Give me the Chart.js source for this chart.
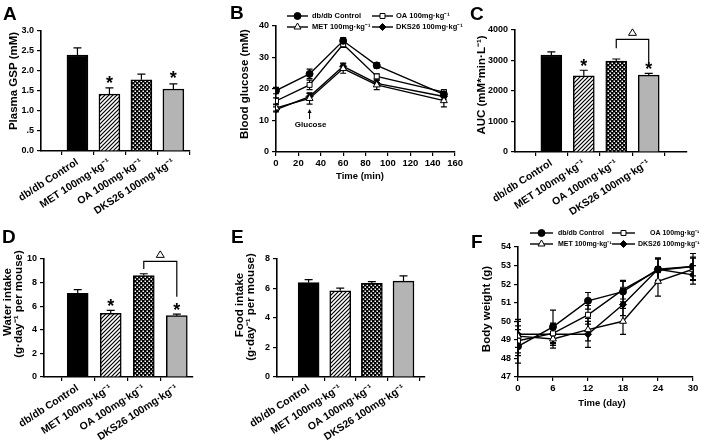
<!DOCTYPE html>
<html>
<head>
<meta charset="utf-8">
<script src="https://cdn.jsdelivr.net/npm/chart.js@4.4.1/dist/chart.umd.min.js"></script>
<style>
  body { margin: 0; width: 709px; height: 442px; position: relative; overflow: hidden; background: #fff;
         font-family: "Liberation Sans", Arial, Helvetica, sans-serif; }
  canvas { position: absolute; }
  .lbl { position: absolute; font-weight: bold; color: #000; white-space: nowrap; line-height: 1; }
  .panel { font-size: 19px; }
  .yt { transform: translate(-50%, -50%) rotate(-90deg); font-size: 11.5px; }
  .xt { transform: translate(-50%, -50%); font-size: 9.5px; }
</style>
</head>
<body>
<canvas id="cA" width="230" height="220" style="left:0;top:0"></canvas>
<canvas id="cB" width="235" height="220" style="left:230px;top:0"></canvas>
<canvas id="cC" width="244" height="220" style="left:465px;top:0"></canvas>
<canvas id="cD" width="230" height="222" style="left:0;top:220px"></canvas>
<canvas id="cE" width="235" height="222" style="left:230px;top:220px"></canvas>
<canvas id="cF" width="244" height="222" style="left:465px;top:220px"></canvas>

<div class="lbl panel" style="left:3px;top:4px">A</div>
<div class="lbl panel" style="left:230px;top:3px">B</div>
<div class="lbl panel" style="left:470px;top:4px">C</div>
<div class="lbl panel" style="left:2px;top:227px">D</div>
<div class="lbl panel" style="left:231px;top:227px">E</div>
<div class="lbl panel" style="left:471px;top:232px">F</div>

<div class="lbl yt" style="left:14px;top:81px">Plasma GSP (mM)</div>
<div class="lbl yt" style="left:245px;top:84px">Blood glucose (mM)</div>
<div class="lbl xt" style="left:360px;top:176px">Time (min)</div>
<div class="lbl yt" style="left:482px;top:85px">AUC (mM*min·L⁻¹)</div>
<div class="lbl yt" style="left:8px;top:302px">Water intake</div>
<div class="lbl yt" style="left:19px;top:304px">(g·day⁻¹ per mouse)</div>
<div class="lbl yt" style="left:240px;top:305px">Food intake</div>
<div class="lbl yt" style="left:251px;top:307px">(g·day⁻¹ per mouse)</div>
<div class="lbl yt" style="left:487px;top:309px">Body weight (g)</div>
<div class="lbl xt" style="left:602px;top:403px">Time (day)</div>

<script>
// ---- data ----
const groups = ['db/db Control', 'MET 100mg·kg⁻¹', 'OA 100mg·kg⁻¹', 'DKS26 100mg·kg⁻¹'];

// A plasma GSP
const gspMean = [2.40, 1.42, 1.78, 1.55];
const gspSem = [0.18, 0.16, 0.14, 0.13];
const gspTicks = [0, 0.5, 1, 1.5, 2, 2.5, 3];
const gspTickLabels = ['0.0', '.5', '1.0', '1.5', '2.0', '2.5', '3.0'];

// B OGTT
const ogttTime = [0, 30, 60, 90, 150];
const ogttCtrl = [19.5, 24.8, 35.3, 27.5, 18.3];
const ogttCtrlSem = [1.0, 1.5, 1.0, 0.9, 1.0];
const ogttMet = [14.0, 17.0, 26.5, 21.3, 16.3];
const ogttMetSem = [1.0, 1.8, 1.5, 1.5, 2.0];
const ogttOa = [16.2, 21.3, 34.2, 24.0, 19.0];
const ogttOaSem = [1.0, 1.5, 1.0, 0.8, 0.8];
const ogttDks = [13.5, 17.6, 27.2, 21.8, 17.6];
const ogttDksSem = [0.8, 1.0, 1.0, 1.0, 0.8];
const ogttXTicks = [0, 20, 40, 60, 80, 100, 120, 140, 160];
const ogttYTicks = [0, 10, 20, 30, 40];

// C AUC
const aucMean = [3180, 2500, 2980, 2520];
const aucSem = [100, 180, 70, 60];
const aucTicks = [0, 1000, 2000, 3000, 4000];

// D water intake
const waterMean = [7.1, 5.4, 8.6, 5.2];
const waterSem = [0.3, 0.25, 0.15, 0.12];
const waterTicks = [0, 2, 4, 6, 8, 10];

// E food intake
const foodMean = [6.4, 5.85, 6.35, 6.5];
const foodSem = [0.2, 0.18, 0.12, 0.35];
const foodTicks = [0, 2, 4, 6, 8];

// F body weight
const bwDay = [0, 6, 12, 18, 24, 30];
const bwCtrl = [48.65, 49.7, 51.1, 51.6, 52.8, 52.95];
const bwCtrlSem = [0.9, 0.9, 0.45, 0.55, 0.6, 0.7];
const bwMet = [49.2, 49.05, 49.55, 50.0, 52.15, 52.8];
const bwMetSem = [0.9, 0.5, 0.6, 0.7, 0.8, 0.6];
const bwOa = [48.95, 49.35, 50.35, 51.7, 52.75, 52.95];
const bwOaSem = [0.8, 0.5, 0.5, 0.5, 0.6, 0.5];
const bwDks = [49.3, 49.3, 49.3, 50.9, 52.8, 52.5];
const bwDksSem = [0.7, 0.6, 0.7, 0.6, 0.6, 0.5];
const bwXTicks = [0, 6, 12, 18, 24, 30];
const bwYTicks = [47, 48, 49, 50, 51, 52, 53, 54];

// ---- setup ----
const FONT = '"Liberation Sans", Arial, Helvetica, sans-serif';
Chart.defaults.font.family = FONT;
Chart.defaults.font.weight = 'bold';
Chart.defaults.color = '#000';
Chart.defaults.animation = false;
Chart.defaults.responsive = false;
Chart.defaults.plugins.legend.display = false;
Chart.defaults.plugins.tooltip.enabled = false;

function hatchFill() {
  const c = document.createElement('canvas');
  c.width = c.height = 4;
  const g = c.getContext('2d');
  g.fillStyle = '#fff'; g.fillRect(0, 0, 4, 4);
  g.strokeStyle = '#000'; g.lineWidth = 1.2;
  g.beginPath();
  g.moveTo(0, 4); g.lineTo(4, 0);
  g.moveTo(-1, 1); g.lineTo(1, -1);
  g.moveTo(3, 5); g.lineTo(5, 3);
  g.stroke();
  return g.createPattern(c, 'repeat');
}
function dotFill() {
  const c = document.createElement('canvas');
  c.width = c.height = 4;
  const g = c.getContext('2d');
  g.fillStyle = '#000'; g.fillRect(0, 0, 4, 4);
  g.fillStyle = '#fff';
  g.fillRect(0.5, 0.5, 1.5, 1.5);
  g.fillRect(2.5, 2.5, 1.5, 1.5);
  return g.createPattern(c, 'repeat');
}
const barFills = ['#000', hatchFill(), dotFill(), '#b4b4b4'];

const axisGrid = { drawOnChartArea: false, drawTicks: true, tickLength: 4, color: '#000', lineWidth: 1.2 };
const axisBorder = { display: true, color: '#000', width: 1.6 };

function yScale(box, plot, ticks, labels) {
  return {
    type: 'linear', min: ticks[0], max: ticks[ticks.length - 1],
    afterBuildTicks: s => { s.ticks = ticks.map(v => ({ value: v })); },
    afterFit: s => { s.width = plot.l - box.x; },
    ticks: { font: { size: 9, weight: 'bold' }, color: '#000', padding: 3,
             callback: (v, i) => labels ? labels[i] : String(v) },
    grid: axisGrid, border: axisBorder
  };
}
function xLinear(box, plot, ticks) {
  return {
    type: 'linear', min: ticks[0], max: ticks[ticks.length - 1], offset: false,
    afterBuildTicks: s => { s.ticks = ticks.map(v => ({ value: v })); },
    afterFit: s => { s.height = box.y + box.h - plot.b; },
    ticks: { font: { size: 9.5, weight: 'bold' }, color: '#000', padding: 2, maxRotation: 0 },
    grid: axisGrid, border: axisBorder
  };
}
function xGroups(box, plot, xmin, xmax) {
  return {
    type: 'linear', min: xmin, max: xmax, offset: false,
    afterBuildTicks: s => { s.ticks = groups.map((g, i) => ({ value: i + 1 })); },
    afterFit: s => { s.height = box.y + box.h - plot.b; },
    ticks: { font: { size: 10.5, weight: 'bold' }, color: '#000', padding: 1,
             minRotation: 33, maxRotation: 33, autoSkip: false,
             callback: (v, i) => groups[i] },
    grid: axisGrid, border: axisBorder
  };
}
function padFor(box, plot) {
  return { top: plot.t - box.y, right: box.x + box.w - plot.r, left: 0, bottom: 0 };
}

// error bars, drawn behind lines / on top of bars
function drawErr(chart, both) {
  const ctx = chart.ctx, ys = chart.scales.y;
  chart.data.datasets.forEach((ds, di) => {
    if (!ds.err) return;
    const meta = chart.getDatasetMeta(di);
    ctx.save();
    ctx.strokeStyle = '#000';
    ctx.lineWidth = 1.2;
    meta.data.forEach((el, i) => {
      const v = ds.data[i].y, e = ds.err[i], x = el.x;
      const top = ys.getPixelForValue(v + e);
      const bot = ys.getPixelForValue(both ? v - e : v);
      const cap = both ? 3 : 4;
      ctx.beginPath();
      ctx.moveTo(x, top); ctx.lineTo(x, bot);
      ctx.moveTo(x - cap, top); ctx.lineTo(x + cap, top);
      if (both) { ctx.moveTo(x - cap, bot); ctx.lineTo(x + cap, bot); }
      ctx.stroke();
    });
    ctx.restore();
  });
}
const errBars = {
  id: 'errBars',
  beforeDatasetsDraw(chart) { if (chart.config.type === 'line') drawErr(chart, true); },
  afterDatasetsDraw(chart) { if (chart.config.type === 'bar') drawErr(chart, false); }
};

function drawStar(ctx, x, y) {
  ctx.save();
  ctx.font = 'bold 18px ' + FONT;
  ctx.fillStyle = '#000';
  ctx.textAlign = 'center';
  ctx.textBaseline = 'alphabetic';
  const m = ctx.measureText('*');
  const mid = (m.actualBoundingBoxAscent - m.actualBoundingBoxDescent) / 2;
  ctx.fillText('*', x, y + mid);
  ctx.restore();
}
function drawOpenTri(ctx, x, y) {
  ctx.save();
  ctx.strokeStyle = '#000'; ctx.lineWidth = 1;
  ctx.beginPath();
  ctx.moveTo(x, y - 3.5); ctx.lineTo(x + 4, y + 3); ctx.lineTo(x - 4, y + 3); ctx.closePath();
  ctx.stroke();
  ctx.restore();
}
// stars above error caps and an optional comparison bracket
function marks(starIdx, starGap, bracket) {
  return {
    id: 'marks',
    afterDatasetsDraw(chart) {
      const ctx = chart.ctx, xs = chart.scales.x, ys = chart.scales.y;
      const ds = chart.data.datasets[0];
      starIdx.forEach((i, k) => {
        const x = xs.getPixelForValue(i + 1);
        const top = ys.getPixelForValue(ds.data[i].y + ds.err[i]);
        drawStar(ctx, x, top - starGap[k]);
      });
      if (bracket) {
        const x1 = xs.getPixelForValue(bracket.a + 1), x2 = xs.getPixelForValue(bracket.b + 1);
        const y = ys.getPixelForValue(bracket.y);
        ctx.save();
        ctx.strokeStyle = '#000'; ctx.lineWidth = 1.2;
        ctx.beginPath();
        ctx.moveTo(x1, ys.getPixelForValue(bracket.ya));
        ctx.lineTo(x1, y); ctx.lineTo(x2, y);
        ctx.lineTo(x2, ys.getPixelForValue(bracket.yb));
        ctx.stroke();
        ctx.restore();
        drawOpenTri(ctx, (x1 + x2) / 2, y - 7);
      }
    }
  };
}

function barChart(id, box, plot, xmin, xmax, mean, sem, ticks, labels, extra) {
  return new Chart(document.getElementById(id), {
    type: 'bar',
    data: { datasets: [{
      data: mean.map((v, i) => ({ x: i + 1, y: v })),
      err: sem,
      backgroundColor: barFills,
      borderColor: '#000', borderWidth: 1.5, barThickness: 21
    }] },
    options: {
      layout: { padding: padFor(box, plot) },
      scales: { x: xGroups(box, plot, xmin, xmax), y: yScale(box, plot, ticks, labels) }
    },
    plugins: [errBars, extra]
  });
}

// line series
const styles = [
  { label: 'db/db Control', style: 'circle', fill: '#000', r: 3.5 },
  { label: 'MET 100mg·kg⁻¹', style: 'triangle', fill: '#fff', r: 4 },
  { label: 'OA 100mg·kg⁻¹', style: 'rect', fill: '#fff', r: 3.5 },
  { label: 'DKS26 100mg·kg⁻¹', style: 'rectRot', fill: '#000', r: 3.5 }
];
function series(k, xs, ys, sem) {
  const s = styles[k];
  return {
    label: s.label, data: xs.map((x, i) => ({ x, y: ys[i] })), err: sem,
    borderColor: '#000', borderWidth: 1.4, tension: 0,
    pointStyle: s.style, pointRadius: s.r, pointBackgroundColor: s.fill,
    pointBorderColor: '#000', pointBorderWidth: 1
  };
}
// key drawn as line-through-marker + text, positions in page px
function keyPlugin(box, items, fontSize, lineLen) {
  return {
    id: 'key',
    afterDraw(chart) {
      const ctx = chart.ctx;
      ctx.save();
      items.forEach(it => {
        const s = styles[it.k];
        const x = it.x - box.x, y = it.y - box.y;
        ctx.strokeStyle = '#000'; ctx.lineWidth = 1.4;
        ctx.beginPath(); ctx.moveTo(x, y); ctx.lineTo(x + lineLen, y); ctx.stroke();
        ctx.fillStyle = s.fill; ctx.lineWidth = 1;
        Chart.helpers.drawPoint(ctx, { pointStyle: s.style, radius: s.r, rotation: 0, borderWidth: 1 }, x + lineLen / 2, y);
        ctx.fillStyle = '#000';
        ctx.font = 'bold ' + fontSize + 'px ' + FONT;
        ctx.textAlign = 'left'; ctx.textBaseline = 'middle';
        ctx.fillText(s.label, it.tx - box.x, y);
      });
      ctx.restore();
    }
  };
}

function lineChart(id, box, plot, datasets, xt, yt, extras) {
  return new Chart(document.getElementById(id), {
    type: 'line',
    data: { datasets },
    options: {
      layout: { padding: padFor(box, plot) },
      scales: { x: xLinear(box, plot, xt), y: yScale(box, plot, yt) }
    },
    plugins: [errBars].concat(extras)
  });
}

// ---- panels ----
const boxA = { x: 0, y: 0, w: 230, h: 220 }, plotA = { l: 41, t: 31, r: 190, b: 151 };
barChart('cA', boxA, plotA, -0.14, 4.52, gspMean, gspSem, gspTicks, gspTickLabels,
  marks([1, 3], [8, 9.5], null));

const boxB = { x: 230, y: 0, w: 235, h: 220 }, plotB = { l: 276, t: 26, r: 458, b: 152 };
const glucoseArrow = {
  id: 'arrow',
  afterDraw(chart) {
    const ctx = chart.ctx, x = chart.scales.x.getPixelForValue(30);
    ctx.save();
    ctx.strokeStyle = '#000'; ctx.fillStyle = '#000'; ctx.lineWidth = 1;
    ctx.beginPath(); ctx.moveTo(x, 119); ctx.lineTo(x, 112); ctx.stroke();
    ctx.beginPath(); ctx.moveTo(x, 109); ctx.lineTo(x + 2, 113); ctx.lineTo(x - 2, 113); ctx.closePath(); ctx.fill();
    ctx.font = 'bold 8px ' + FONT;
    ctx.textAlign = 'center'; ctx.textBaseline = 'middle';
    ctx.fillText('Glucose', x + 1, 125);
    ctx.restore();
  }
};
lineChart('cB', boxB, plotB, [
  series(0, ogttTime, ogttCtrl, ogttCtrlSem),
  series(2, ogttTime, ogttOa, ogttOaSem),
  series(1, ogttTime, ogttMet, ogttMetSem),
  series(3, ogttTime, ogttDks, ogttDksSem)
], ogttXTicks, ogttYTicks, [glucoseArrow, keyPlugin(boxB, [
  { k: 0, x: 287, y: 16, tx: 312 },
  { k: 1, x: 287, y: 27, tx: 312 },
  { k: 2, x: 372, y: 16, tx: 396 },
  { k: 3, x: 372, y: 27, tx: 396 }
], 7.5, 21)]);

const boxC = { x: 465, y: 0, w: 244, h: 220 }, plotC = { l: 515, t: 30, r: 687, b: 152 };
barChart('cC', boxC, plotC, -0.12, 5.18, aucMean, aucSem, aucTicks, null,
  marks([1, 3], [8, 8], { a: 2, b: 3, y: 3694, ya: 3400, yb: 2850 }));

const boxD = { x: 0, y: 220, w: 230, h: 222 }, plotD = { l: 44, t: 259, r: 193, b: 377 };
barChart('cD', boxD, plotD, -0.02, 4.49, waterMean, waterSem, waterTicks, null,
  marks([1, 3], [7.5, 7.5], { a: 2, b: 3, y: 9.8, ya: 9.15, yb: 6.8 }));

const boxE = { x: 230, y: 220, w: 235, h: 222 }, plotE = { l: 277, t: 259, r: 425, b: 377 };
barChart('cE', boxE, plotE, -0.0, 4.68, foodMean, foodSem, foodTicks, null, { id: 'none' });

const boxF = { x: 465, y: 220, w: 244, h: 222 }, plotF = { l: 518, t: 247, r: 693, b: 377 };
lineChart('cF', boxF, plotF, [
  series(0, bwDay, bwCtrl, bwCtrlSem),
  series(2, bwDay, bwOa, bwOaSem),
  series(1, bwDay, bwMet, bwMetSem),
  series(3, bwDay, bwDks, bwDksSem)
], bwXTicks, bwYTicks, [keyPlugin(boxF, [
  { k: 0, x: 530, y: 233, tx: 558 },
  { k: 1, x: 530, y: 244, tx: 558 },
  { k: 2, x: 612, y: 233, tx: 650 },
  { k: 3, x: 612, y: 244, tx: 638 }
], 7, 23)]);
</script>
</body>
</html>
